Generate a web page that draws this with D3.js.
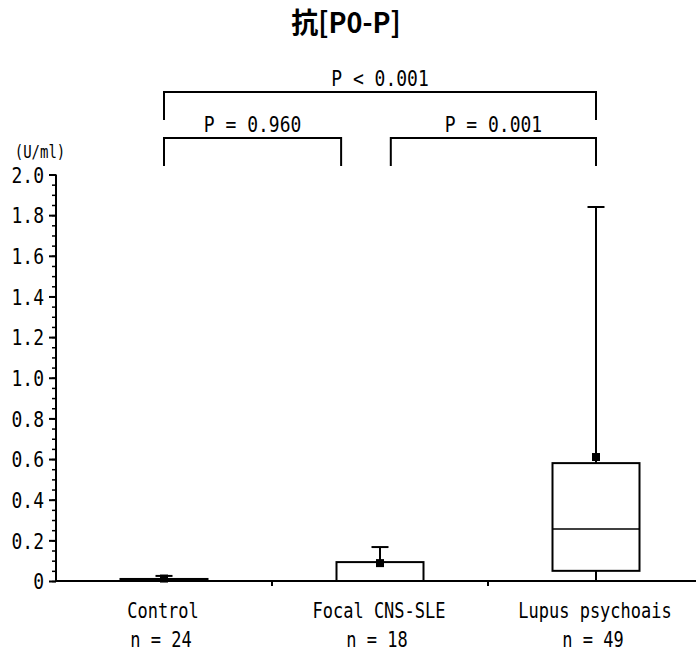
<!DOCTYPE html>
<html><head><meta charset="utf-8">
<script src="https://cdn.jsdelivr.net/npm/d3@7"></script>
<style>
html,body{margin:0;padding:0;background:#fff;}
svg{display:block;}
text{fill:#000;}
</style></head>
<body>
<svg id="chart" width="696" height="652"></svg>
<script>
// ---- data ----
const categories = ["Control", "Focal CNS-SLE", "Lupus psychoais"];
const nLabels = ["n = 24", "n = 18", "n = 49"];
const q1 = [0, 0, 0.05];
const median = [0.005, 0, 0.256];
const q3 = [0.01, 0.093, 0.58];
const whiskerLow = [0, 0, 0];
const whiskerHigh = [0.025, 0.167, 1.84];
const means = [0.012, 0.088, 0.61];
const majorTicks = [0, 0.2, 0.4, 0.6, 0.8, 1.0, 1.2, 1.4, 1.6, 1.8, 2.0];
const majorTickLabels = ["0", "0.2", "0.4", "0.6", "0.8", "1.0", "1.2", "1.4", "1.6", "1.8", "2.0"];
const minorTicks = d3.range(0, 41).map(i => i * 0.05);
// comparison brackets: ends in category-index units
const bracketFrom = [0, 0, 1.05];
const bracketTo = [2, 0.82, 2];
const bracketLabels = ["P < 0.001", "P = 0.960", "P = 0.001"];
const bracketLevel = [1, 0, 0];
const title = "抗[P0-P]";
const unitLabel = "(U/ml)";

// ---- layout ----
const svg = d3.select("#chart");
const mono = "'DejaVu Sans Mono', 'Liberation Mono', monospace";
const mLeft = 56, mRight = 704, mTop = 174.5, mBottom = 581;
const sY = 1.2;

const x = d3.scaleBand().domain(categories).range([mLeft, mRight]).padding(0);
const xi = d3.scaleLinear().domain([0, 1]).range([x(categories[0]) + x.bandwidth() / 2, x(categories[1]) + x.bandwidth() / 2]);
const y = d3.scaleLinear().domain([0, 2]).range([mBottom, mTop]);

// Title
svg.append("text").attr("transform", `translate(346,33) scale(1,1.05)`).attr("text-anchor", "middle")
  .attr("font-family", "'Noto Sans CJK JP', 'Noto Sans', sans-serif").attr("font-weight", "bold")
  .attr("font-size", 27).text(title);

// Unit label
svg.append("text").attr("transform", `translate(40,158) scale(1,${sY})`).attr("text-anchor", "middle")
  .attr("font-family", mono).attr("font-size", 14).text(unitLabel);

// Minor ticks
const minorAxis = d3.axisLeft(y).tickValues(minorTicks).tickSize(4).tickFormat("");
svg.append("g").attr("transform", `translate(${mLeft},0)`).call(minorAxis)
  .call(g => g.select(".domain").remove())
  .call(g => g.selectAll("line").attr("stroke", "#000").attr("stroke-width", 1.5));

// Major y axis
const yAxis = d3.axisLeft(y).tickValues(majorTicks).tickSize(7).tickPadding(5)
  .tickFormat((d, i) => majorTickLabels[i]);
svg.append("g").attr("transform", `translate(${mLeft},0)`).call(yAxis)
  .call(g => g.select(".domain").attr("stroke", "#000").attr("stroke-width", 2).attr("d", `M0,${mTop}V${mBottom}`))
  .call(g => g.selectAll(".tick line").attr("stroke", "#000").attr("stroke-width", 2))
  .call(g => g.selectAll(".tick text").attr("font-family", mono).attr("font-size", 18)
    .attr("fill", "#000").attr("dy", "0.36em").attr("x", -12).attr("transform", `scale(1,${sY})`));

// X axis
const xAxis = d3.axisBottom(x).tickValues([]).tickSizeOuter(0);
svg.append("g").attr("transform", `translate(0,${mBottom})`).call(xAxis)
  .call(g => g.select(".domain").attr("stroke", "#000").attr("stroke-width", 2).attr("d", `M${mLeft},0H696`));
// category separators
svg.append("g").selectAll("line").data(categories.slice(1)).join("line")
  .attr("x1", d => x(d)).attr("x2", d => x(d)).attr("y1", mBottom).attr("y2", mBottom + 5)
  .attr("stroke", "#000").attr("stroke-width", 2);

// Category labels
svg.append("g").selectAll("text").data(categories).join("text")
  .attr("transform", d => `translate(${x(d) + x.bandwidth() / 2 - 1},618) scale(1,${sY})`)
  .attr("text-anchor", "middle").attr("font-family", mono).attr("font-size", 17).text(d => d);
svg.append("g").selectAll("text").data(nLabels).join("text")
  .attr("transform", (d, i) => `translate(${x(categories[i]) + x.bandwidth() / 2 - 3},647) scale(1,${sY})`)
  .attr("text-anchor", "middle").attr("font-family", mono).attr("font-size", 17).text(d => d);

// Boxes
const boxW = 87, capW = 17, meanS = 8;
const gBox = svg.append("g");
categories.forEach((c, i) => {
  const cx = x(c) + x.bandwidth() / 2;
  // upper whisker
  gBox.append("line").attr("x1", cx).attr("x2", cx).attr("y1", y(q3[i])).attr("y2", y(whiskerHigh[i]))
    .attr("stroke", "#000").attr("stroke-width", 2);
  gBox.append("line").attr("x1", cx - capW / 2).attr("x2", cx + capW / 2).attr("y1", y(whiskerHigh[i])).attr("y2", y(whiskerHigh[i]))
    .attr("stroke", "#000").attr("stroke-width", 2);
  // lower whisker
  gBox.append("line").attr("x1", cx).attr("x2", cx).attr("y1", y(q1[i])).attr("y2", y(whiskerLow[i]))
    .attr("stroke", "#000").attr("stroke-width", 2);
  // box
  gBox.append("rect").attr("x", cx - boxW / 2).attr("y", y(q3[i])).attr("width", boxW)
    .attr("height", Math.max(1, y(q1[i]) - y(q3[i]))).attr("fill", "#fff").attr("stroke", "#000").attr("stroke-width", 2);
  // median
  gBox.append("line").attr("x1", cx - boxW / 2).attr("x2", cx + boxW / 2).attr("y1", y(median[i])).attr("y2", y(median[i]))
    .attr("stroke", "#000").attr("stroke-width", 1.5);
  // mean marker
  gBox.append("rect").attr("x", cx - meanS / 2).attr("y", y(means[i]) - meanS / 2).attr("width", meanS).attr("height", meanS)
    .attr("fill", "#000");
});

// Brackets
const barY = [138, 92];
const tickLen = 28;
const gBr = svg.append("g");
bracketLabels.forEach((lab, i) => {
  const x1 = xi(bracketFrom[i]), x2 = xi(bracketTo[i]);
  const by = barY[bracketLevel[i]];
  gBr.append("path").attr("d", `M${x1},${by + tickLen}V${by}H${x2}V${by + tickLen}`)
    .attr("fill", "none").attr("stroke", "#000").attr("stroke-width", 2);
  gBr.append("text").attr("transform", `translate(${(x1 + x2) / 2},${by - 6}) scale(1,${sY})`)
    .attr("text-anchor", "middle").attr("font-family", mono).attr("font-size", 18).text(lab);
});
</script>
</body></html>
